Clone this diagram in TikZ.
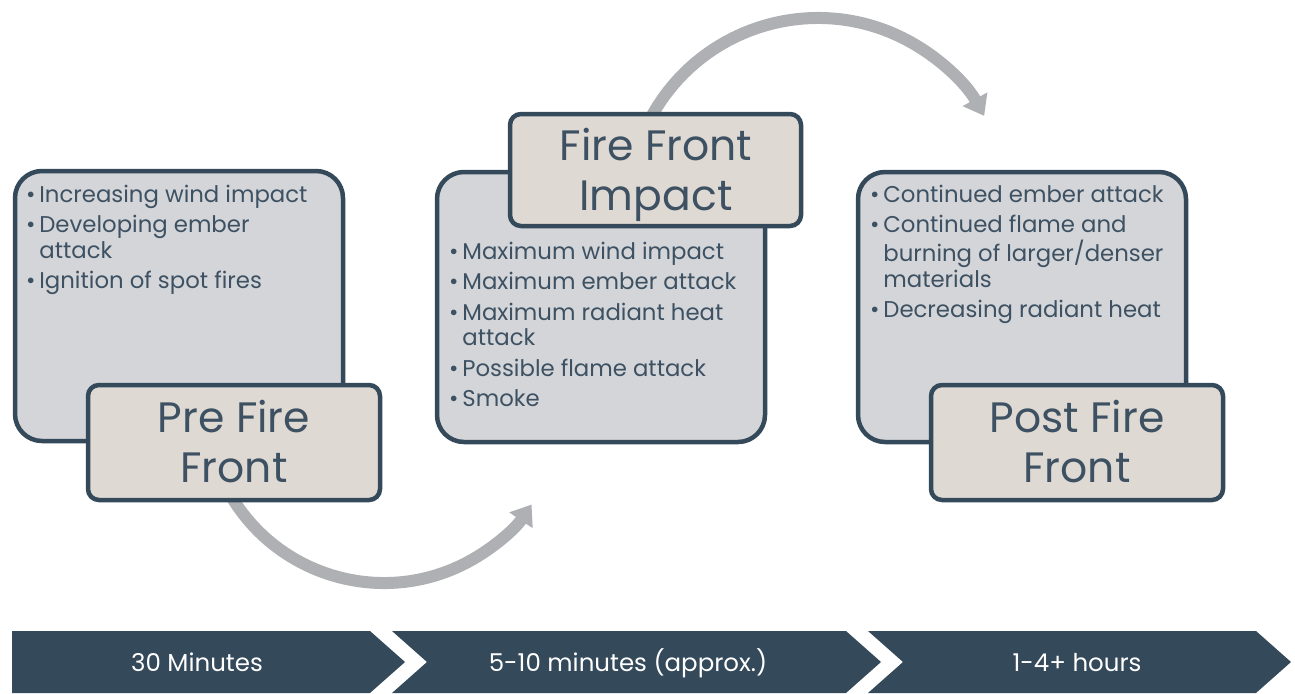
\documentclass[tikz,border=0pt]{standalone}
\usepackage{fontspec}
\setmainfont{Poppins}
\usetikzlibrary{arrows.meta}
\definecolor{slate}{HTML}{34495A}
\definecolor{boxgrey}{HTML}{D3D5D8}
\definecolor{labeltan}{HTML}{DFD9D3}
\definecolor{arrowgrey}{HTML}{AEB0B4}
\definecolor{txt}{HTML}{3D5163}
\newcommand{\bul}{\textbullet\,}
\newcommand{\nob}{\hphantom{\textbullet\,}}
\begin{document}
\begin{tikzpicture}[x=1pt,y=-1pt,
  greybox/.style={draw=slate,line width=4.5pt,fill=boxgrey,rounded corners=27pt,anchor=north west,inner sep=0pt,outer sep=0pt},
  labelbox/.style={draw=slate,line width=4.5pt,fill=labeltan,rounded corners=11pt,anchor=north west,inner sep=0pt,outer sep=0pt},
  bullets/.style={anchor=base west,inner sep=0pt,text=txt,font=\fontsize{22.8}{25.5}\selectfont},
  labeltext/.style={anchor=base,inner sep=0pt,text=txt,font=\fontsize{42.5}{50}\selectfont},
  curvearrow/.style={draw=arrowgrey,line width=12pt,-{Triangle[length=19pt,width=27pt]}},
  chev/.style={fill=slate},
  chevtext/.style={anchor=base,inner sep=0pt,text=white,font=\fontsize{24.5}{28}\selectfont}]
\useasboundingbox (0,0) rectangle (1295,693);

% curved arrows
\coordinate (arcAc) at (384,405);
\coordinate (arcBc) at (818,208);
\draw[curvearrow] (arcAc) ++(152:178) arc[start angle=152,end angle=34,radius=178];
\draw[curvearrow] (arcBc) ++(-152:190) arc[start angle=-152,end angle=-29,radius=190];

% grey content boxes
\node[greybox,minimum width=328pt,minimum height=270pt] (g1) at (15,171) {};
\node[greybox,minimum width=328pt,minimum height=270pt] (g2) at (437,172) {};
\node[greybox,minimum width=328pt,minimum height=270pt] (g3) at (858,172) {};

% label boxes
\node[labelbox,minimum width=292pt,minimum height=115pt] (l1) at (88,385) {};
\node[labelbox,minimum width=291pt,minimum height=112pt] (l2) at (510,114) {};
\node[labelbox,minimum width=292pt,minimum height=115pt] (l3) at (931,385) {};

\node[labeltext] (t1) at (234,432) {\begin{tabular}[t]{@{}c@{}}Pre Fire\\Front\end{tabular}};
\node[labeltext] (t2) at (656,160) {\begin{tabular}[t]{@{}c@{}}Fire Front\\Impact\end{tabular}};
\node[labeltext] (t3) at (1077,432) {\begin{tabular}[t]{@{}c@{}}Post Fire\\Front\end{tabular}};

% bullet texts
\node[bullets] (b1) at (26,202) {\begin{tabular}[t]{@{}l@{}}\bul Increasing wind impact\\[5pt]
\bul Developing ember\\ \nob attack\\[5pt]
\bul Ignition of spot fires\end{tabular}};
\node[bullets] (b2) at (449,259) {\begin{tabular}[t]{@{}l@{}}\bul Maximum wind impact\\[5pt]
\bul Maximum ember attack\\[5pt]
\bul Maximum radiant heat\\ \nob attack\\[5pt]
\bul Possible flame attack\\[5pt]
\bul Smoke\end{tabular}};
\node[bullets] (b3) at (870,202) {\begin{tabular}[t]{@{}l@{}}\bul Continued ember attack\\[5pt]
\bul Continued flame and\\ \nob burning of larger/denser\\ \nob materials\\[5pt]
\bul Decreasing radiant heat\end{tabular}};

% timeline chevrons
\fill[chev] (12,631) -- (370,631) -- (405,662) -- (370,693) -- (12,693) -- cycle;
\fill[chev] (392,631) -- (846,631) -- (881,662) -- (846,693) -- (392,693) -- (427,662) -- cycle;
\fill[chev] (868,631) -- (1256,631) -- (1291,662) -- (1256,693) -- (868,693) -- (903,662) -- cycle;
\node[chevtext] (c1) at (197,671) {30 Minutes};
\node[chevtext] (c2) at (628,671) {5-10 minutes (approx.)};
\node[chevtext] (c3) at (1077,671) {1-4+ hours};
\end{tikzpicture}
\end{document}
